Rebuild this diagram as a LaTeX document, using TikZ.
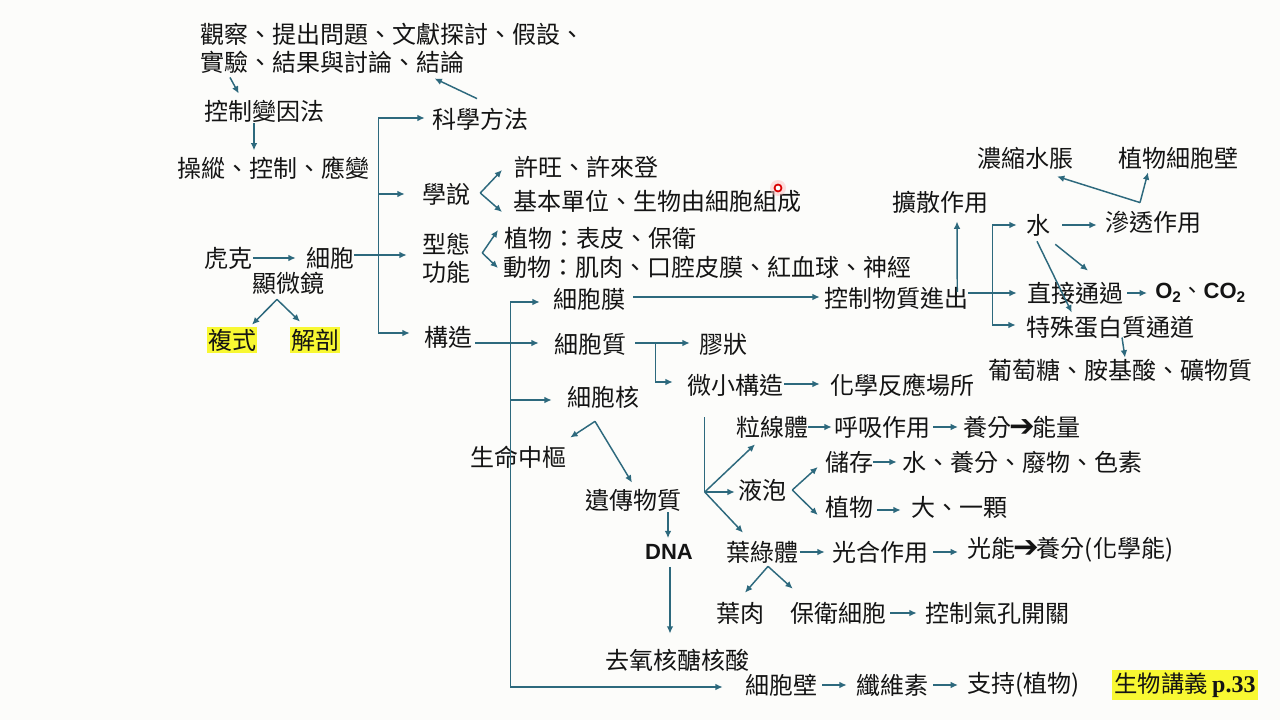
\documentclass[tikz,border=0pt]{standalone}
\usepackage{fontspec}
\usetikzlibrary{calc,arrows.meta}
\newfontfamily\cjk{Noto Sans CJK TC}
\newfontfamily\arialf{Liberation Sans}
\newfontfamily\tnrf{Liberation Serif}
\newfontfamily\djvf{DejaVu Sans}
\definecolor{bgc}{RGB}{252,252,250}
\definecolor{ac}{RGB}{45,105,125}
\definecolor{hly}{RGB}{248,248,50}
\definecolor{tx}{RGB}{20,20,20}
\newcommand\barrow{{\djvf\bfseries\fontsize{23}{20}\selectfont\kern-1.5pt➔\kern-1.5pt}}
\begin{document}
\begin{tikzpicture}[x=0.75pt,y=-0.75pt,
  txt/.style={font=\cjk\fontsize{18}{21}\selectfont, inner sep=0pt, text=tx},
  boldtxt/.style={font=\arialf\bfseries\fontsize{16.5}{20}\selectfont, inner sep=0pt, text=tx},
  hl/.style={fill=hly, inner xsep=0.5pt, inner ysep=1.5pt},
  arr/.style={draw=ac, line width=1.1pt, -{Latex[length=5.5pt,width=5pt]}},
  ln/.style={draw=ac, line width=1.1pt}]
\fill[bgc] (0,0) rectangle (1280,720);
\useasboundingbox (0,0) rectangle (1280,720);

% ---- nodes ----
\node[txt,anchor=west] (obs1) at (200,34) {觀察、提出問題、文獻探討、假設、};
\node[txt,anchor=west] (obs2) at (200,62) {實驗、結果與討論、結論};
\node[txt] (ctrlvar) at (264,111) {控制變因法};
\node[txt] (manip) at (273,168) {操縱、控制、應變};
\node[txt] (sci) at (480,119) {科學方法};
\node[txt] (hooke) at (228,258) {虎克};
\node[txt] (cell) at (330,258) {細胞};
\node[txt] (micro) at (288,283) {顯微鏡};
\node[txt,hl] (compound) at (232,340) {複式};
\node[txt,hl] (dissect) at (315,340) {解剖};
\node[txt] (theory) at (446,194) {學說};
\node[txt,align=center] (form) at (446,258) {型態\\功能};
\node[txt] (struct) at (448,337) {構造};
\node[txt,anchor=west] (schw) at (514,167) {許旺、許來登};
\node[txt,anchor=west] (unit) at (513,201) {基本單位、生物由細胞組成};
\node[txt,anchor=west] (plant) at (504,238) {植物：表皮、保衛};
\node[txt,anchor=west] (animal) at (503,267) {動物：肌肉、口腔皮膜、紅血球、神經};
\node[txt] (membrane) at (589,299) {細胞膜};
\node[txt] (cytoplasm) at (590,344) {細胞質};
\node[txt] (nucleus) at (603,397) {細胞核};
\node[txt] (gel) at (723,344) {膠狀};
\node[txt] (tiny) at (735,385) {微小構造};
\node[txt] (chemsite) at (902,385) {化學反應場所};
\node[txt] (control) at (896,298) {控制物質進出};
\node[txt] (diffuse) at (940,202) {擴散作用};
\node[txt] (water) at (1038,225) {水};
\node[txt] (osmosis) at (1153,222) {滲透作用};
\node[txt] (conc) at (1025,158) {濃縮水脹};
\node[txt] (pwall) at (1178,158) {植物細胞壁};
\node[txt] (direct) at (1075,293) {直接通過};
\node[boldtxt,anchor=west] (gas) at (1155,293) {O\textsubscript{2}{\cjk\mdseries 、}CO\textsubscript{2}};
\node[txt] (channel) at (1110,327) {特殊蛋白質通道};
\node[txt] (glucose) at (1120,370) {葡萄糖、胺基酸、礦物質};
\node[txt] (life) at (518,457) {生命中樞};
\node[txt] (heredity) at (633,500) {遺傳物質};
\node[boldtxt] (dna) at (669,552) {DNA};
\node[txt] (deoxy) at (677,660) {去氧核醣核酸};
\node[txt] (mito) at (772,427) {粒線體};
\node[txt] (resp) at (882,427) {呼吸作用};
\node[txt,anchor=west] (energy) at (963,427) {養分\barrow 能量};
\node[txt] (vacuole) at (762,490) {液泡};
\node[txt] (store) at (849,462) {儲存};
\node[txt] (waste) at (1022,462) {水、養分、廢物、色素};
\node[txt] (plantv) at (849,507) {植物};
\node[txt] (big) at (959,507) {大、一顆};
\node[txt] (chloro) at (762,552) {葉綠體};
\node[txt] (photo) at (880,552) {光合作用};
\node[txt,anchor=west] (light) at (967,550) {光能\barrow 養分(化學能)};
\node[txt] (meso) at (740,613) {葉肉};
\node[txt] (guard) at (838,613) {保衛細胞};
\node[txt] (stoma) at (997,613) {控制氣孔開關};
\node[txt] (wall) at (781,685) {細胞壁};
\node[txt] (cellulose) at (892,685) {纖維素};
\node[txt,anchor=west] (support) at (967,685) {支持(植物)};
\node[fill=hly, inner xsep=2pt, inner ysep=2pt, text=tx] (ref) at (1185,685)
  {{\cjk\fontsize{17.5}{20}\selectfont 生物講義} {\tnrf\bfseries\fontsize{18}{20}\selectfont p.33}};

% cursor mark
\fill[red!25, opacity=0.5] (778,188) circle (8);
\draw[red!85!black, line width=1.3pt, fill=white] (778,188) circle (3.5);

% ---- connectors: scientific method ----
\draw[arr] ($(obs2.south west)+(30,4)$) -- ($(ctrlvar.north west)+(35,-6)$);
\draw[arr] ($(ctrlvar.south)+(-10,1)$) -- ($(manip.north)+(-19,-6)$);
\draw[arr] ($(sci.north)+(-3,-9)$) -- ($(obs2.south east)+(-30,5)$);

% ---- Hooke / microscope ----
\draw[arr] ($(hooke.east)+(1,0)$) -- ($(cell.west)+(-10,0)$);
\coordinate (mapex) at ($(micro.south)+(-11,5)$);
\draw[arr] (mapex) -- ($(compound.north)+(20,-2)$);
\draw[arr] (mapex) -- ($(dissect.north)+(-15,-5)$);

% ---- trunk 1 ----
\coordinate (j1) at ($(cell.east)+(24,-3)$);
\draw[arr] ($(cell.east)+(0,-3)$) -- ($(form.west)+(-15,-3)$);
\draw[arr] (j1) |- ($(sci.west)+(-7,-1)$);
\draw[arr] (j1) |- ($(theory.west)+(-17,0)$);
\draw[arr] (j1) |- ($(struct.west)+(-14,-4)$);

% theory / form branches
\coordinate (tapex) at ($(theory.east)+(10,-1)$);
\draw[arr] (tapex) -- ($(schw.west)+(-12,3)$);
\draw[arr] (tapex) -- ($(unit.west)+(-11,11)$);
\coordinate (fapex) at ($(form.east)+(12,-5)$);
\draw[arr] (fapex) -- ($(plant.west)+(-6,-8)$);
\draw[arr] (fapex) -- ($(animal.west)+(-5,1)$);

% ---- trunk 2 (structure) ----
\coordinate (j2) at ($(struct.east)+(38,6)$);
\draw[arr] ($(struct.east)+(3,6)$) -- ($(cytoplasm.west)+(-15,-1)$);
\draw[arr] (j2) |- ($(membrane.west)+(-13,3)$);
\draw[arr] (j2) |- ($(nucleus.west)+(-15,3)$);
\draw[arr] (j2) |- ($(wall.west)+(-22,2)$);

% membrane
\draw[arr] ($(membrane.east)+(8,-2)$) -- ($(control.west)+(-4,-1)$);
\draw[arr] ($(control.east)+(-11,-6)$) -- ($(diffuse.south)+(17,8)$);
\coordinate (j5) at ($(control.east)+(24,-5)$);
\draw[arr] ($(control.east)+(0,-5)$) -- ($(direct.west)+(-10,0)$);
\draw[arr] (j5) |- ($(water.west)+(-9,0)$);
\draw[arr] (j5) |- ($(channel.west)+(-10,-2)$);
\draw[arr] ($(water.east)+(12,0)$) -- ($(osmosis.west)+(-8,3)$);
\draw[arr] ($(water.south east)+(5,8)$) -- ($(direct.north)+(13,-11)$);
\draw[arr] ($(water.south)+(-1,5)$) -- ($(channel.north west)+(46,-3)$);
\draw[arr] ($(direct.east)+(4,0)$) -- ($(gas.west)+(-8,0)$);
\draw[arr] ($(channel.south)+(12,-1)$) -- ($(glucose.north)+(5,-1)$);
\coordinate (oapex) at ($(osmosis.north)+(-13,-8)$);
\draw[arr] (oapex) -- ($(conc.south)+(32,7)$);
\draw[arr] (oapex) -- ($(pwall.south)+(-30,3)$);

% cytoplasm
\draw[arr] ($(cytoplasm.east)+(9,-1)$) -- ($(gel.west)+(-9,-1)$);
\coordinate (j3) at ($(cytoplasm.east)+(29,-1)$);
\draw[arr] (j3) |- ($(tiny.west)+(-14,-3)$);
\draw[arr] ($(tiny.east)+(1,-1)$) -- ($(chemsite.west)+(-10,-1)$);

% organelles
\coordinate (j4) at ($(vacuole.west)+(-33,2)$);
\coordinate (j4top) at ($(j4)+(0,-75)$);
\draw[ln] (j4top) -- (j4);
\draw[arr] (j4) -- ($(mito.south)+(-17,6)$);
\draw[arr] (j4) -- ($(vacuole.west)+(-3,2)$);
\draw[arr] (j4) -- ($(chloro.north)+(-19,-8)$);
\draw[arr] ($(mito.east)+(0,0)$) -- ($(resp.west)+(-2,0)$);
\draw[arr] ($(resp.east)+(3,0)$) -- ($(energy.west)+(-5,0)$);
\coordinate (vapex) at ($(vacuole.east)+(6,0)$);
\draw[arr] (vapex) -- ($(store.west)+(-7,5)$);
\draw[arr] (vapex) -- ($(plantv.west)+(-7,8)$);
\draw[arr] ($(store.east)+(0,0)$) -- ($(waste.west)+(-5,0)$);
\draw[arr] ($(plantv.east)+(4,3)$) -- ($(big.west)+(-10,3)$);
\draw[arr] ($(chloro.east)+(2,0)$) -- ($(photo.west)+(-7,0)$);
\draw[arr] ($(photo.east)+(5,0)$) -- ($(light.west)+(-9,2)$);
\coordinate (capex) at ($(chloro.south)+(6,3)$);
\draw[arr] (capex) -- ($(meso.north)+(5,-9)$);
\draw[arr] (capex) -- ($(guard.north west)+(3,-13)$);
\draw[arr] ($(guard.east)+(4,0)$) -- ($(stoma.west)+(-8,0)$);
\draw[arr] ($(wall.east)+(5,0)$) -- ($(cellulose.west)+(-9,0)$);
\draw[arr] ($(cellulose.east)+(5,0)$) -- ($(support.west)+(-9,0)$);

% nucleus
\coordinate (napex) at ($(nucleus.south)+(-8,13)$);
\draw[arr] (napex) -- ($(life.north east)+(4,-8)$);
\draw[arr] (napex) -- ($(heredity.north)+(-1,-6)$);
\draw[arr] ($(heredity.south)+(35,1)$) -- ($(dna.north)+(-1,-6)$);
\draw[arr] ($(dna.south)+(1,7)$) -- ($(deoxy.north)+(-7,-15)$);
\end{tikzpicture}
\end{document}
